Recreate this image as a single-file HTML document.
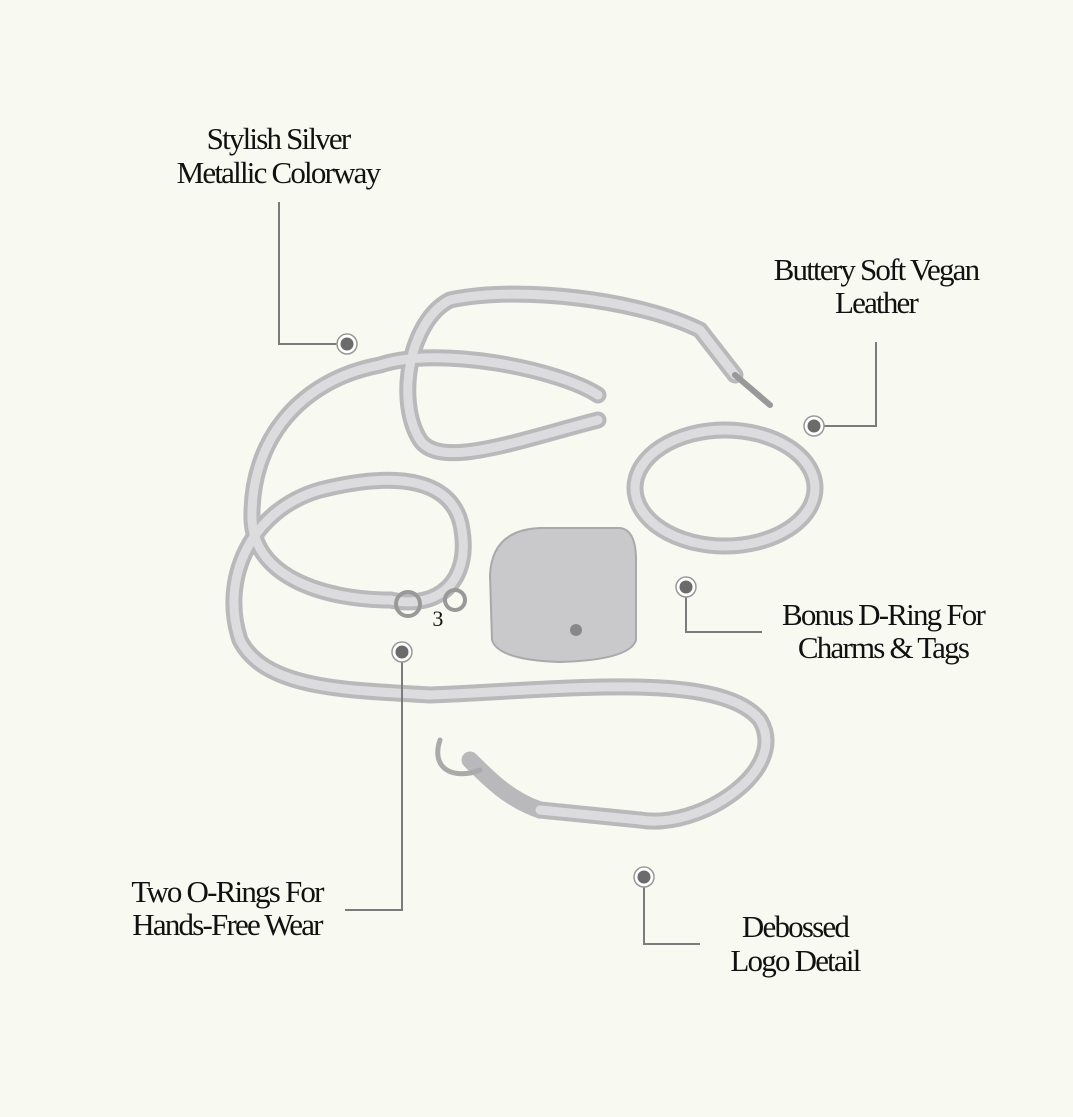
<!DOCTYPE html>
<html><head><style>
html,body{margin:0;padding:0;background:#f8f9f1;}
svg{display:block}
text{font-family:"Liberation Serif",serif;font-size:31px;fill:#111;letter-spacing:-1.8px;text-anchor:middle}
</style></head><body>
<svg width="1073" height="1117" viewBox="0 0 1073 1117">
<rect width="1073" height="1117" fill="#f8f9f1"/>
<g fill="none" stroke-linecap="round" stroke-linejoin="round">
<g stroke="#b9b9bb" stroke-width="17">
<path d="M598,395 C560,370 440,345 380,365 C300,380 250,440 252,520 C255,580 330,600 390,600"/>
<path d="M598,420 C520,440 440,470 420,440 C395,400 410,320 450,300 C520,285 640,300 700,330 L735,375"/>
<path d="M390,600 C440,610 470,580 462,530 C455,480 400,470 320,490 C250,510 220,580 240,640 C265,690 350,690 430,695 C560,690 720,670 760,720 C790,770 700,830 640,820 L540,810"/>
<path d="M540,810 C510,800 490,780 470,760"/>
<ellipse cx="725" cy="488" rx="90" ry="58"/>
</g>
<g stroke="#dcdcde" stroke-width="9">
<path d="M598,395 C560,370 440,345 380,365 C300,380 250,440 252,520 C255,580 330,600 390,600"/>
<path d="M598,420 C520,440 440,470 420,440 C395,400 410,320 450,300 C520,285 640,300 700,330 L735,375"/>
<path d="M390,600 C440,610 470,580 462,530 C455,480 400,470 320,490 C250,510 220,580 240,640 C265,690 350,690 430,695 C560,690 720,670 760,720 C790,770 700,830 640,820 L540,810"/>
<ellipse cx="725" cy="488" rx="90" ry="58"/>
</g>
<path d="M735,375 L770,405" stroke="#999" stroke-width="6"/>
<path d="M440,740 C430,770 455,780 480,770" stroke="#aaa" stroke-width="5"/>
<circle cx="408" cy="604" r="12" stroke="#999" stroke-width="4"/>
<circle cx="455" cy="600" r="10" stroke="#999" stroke-width="4"/>
</g>
<path d="M490,575 Q492,530 540,528 L620,528 Q636,530 636,560 L636,640 Q630,660 560,662 Q498,660 492,640 Z" fill="#c9c9cb" stroke="#a9a9ab" stroke-width="2"/>
<circle cx="576" cy="630" r="6" fill="#888"/>
<text x="437" y="626" style="font-size:22px">3</text>
<g fill="none" stroke="#7b7b7b" stroke-width="2">
<path d="M279,202 V344 H340"/>
<path d="M821,426 H876 V342"/>
<path d="M686,594 V632 H762"/>
<path d="M402,659 V910 H345"/>
<path d="M644,884 V944 H700"/>
</g>
<g>
<g fill="#fff" stroke="#999" stroke-width="1.5">
<circle cx="347" cy="344" r="10"/><circle cx="814" cy="426" r="10"/><circle cx="686" cy="587" r="10"/><circle cx="402" cy="652" r="10"/><circle cx="644" cy="877" r="10"/>
</g>
<g fill="#6b6b6b">
<circle cx="347" cy="344" r="6.5"/><circle cx="814" cy="426" r="6.5"/><circle cx="686" cy="587" r="6.5"/><circle cx="402" cy="652" r="6.5"/><circle cx="644" cy="877" r="6.5"/>
</g>
</g>
<text x="278" y="149">Stylish Silver</text>
<text x="278" y="183">Metallic Colorway</text>
<text x="876" y="280">Buttery Soft Vegan</text>
<text x="876" y="313">Leather</text>
<text x="883" y="625">Bonus D-Ring For</text>
<text x="883" y="658">Charms &amp; Tags</text>
<text x="227" y="902">Two O-Rings For</text>
<text x="227" y="935">Hands-Free Wear</text>
<text x="795" y="937">Debossed</text>
<text x="795" y="971">Logo Detail</text>
</svg>
</body></html>
